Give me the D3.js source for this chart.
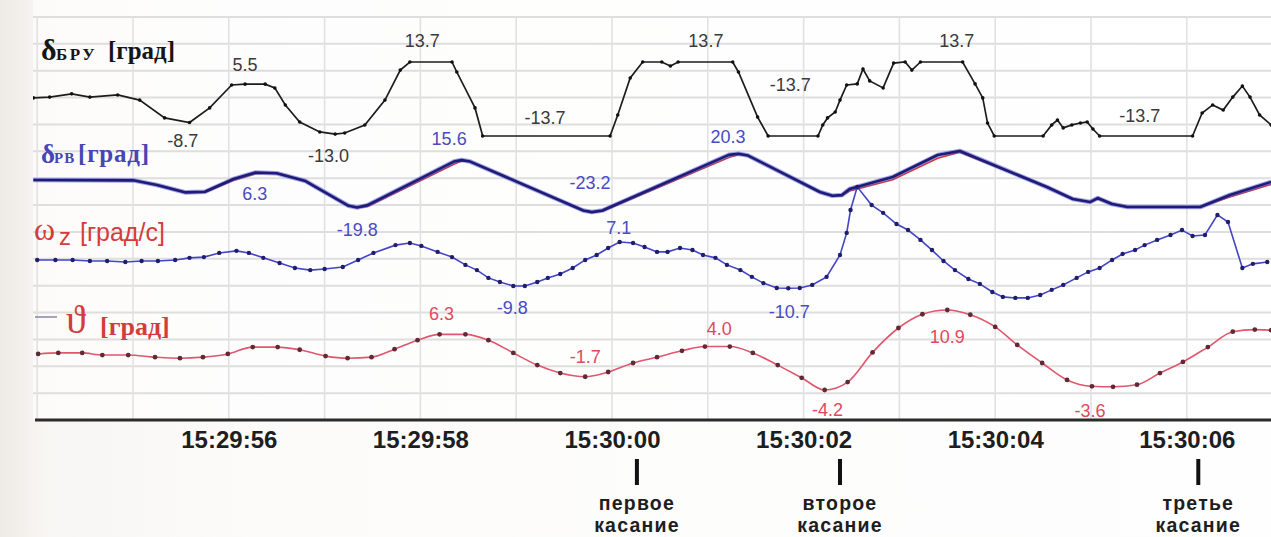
<!DOCTYPE html>
<html>
<head>
<meta charset="utf-8">
<script src="https://cdn.jsdelivr.net/npm/d3@7"></script>
<style>
  html, body { margin: 0; padding: 0; background: #fbfaf8; }
  svg { display: block; }
</style>
</head>
<body>
<svg id="chart" width="1271" height="537"></svg>
<script>
// ---- Data (time in seconds relative to 15:30:00) ----
const tickTimes  = [-4, -2, 0, 2, 4, 6];
const tickLabels = ["15:29:56", "15:29:58", "15:30:00", "15:30:02", "15:30:04", "15:30:06"];

const touchTimes  = [0.26, 2.38, 6.12];
const touchLabels = [["первое", "касание"], ["второе", "касание"], ["третье", "касание"]];

// δБРУ, deg
const bruTime  = [-6.04,-5.87,-5.64,-5.45,-5.16,-4.93,-4.67,-4.41,-4.20,-3.97,-3.83,-3.62,-3.52,-3.41,-3.26,-3.05,-2.89,-2.79,-2.58,-2.37,-2.21,-2.11,
                  -1.67,-1.62,-1.43,-1.35,-0.02,0.06,0.19,0.32,0.52,0.61,0.69,1.26,1.32,1.52,1.63,2.15,2.20,2.25,2.33,2.38,2.45,2.56,2.62,2.69,2.83,
                  2.94,3.06,3.13,3.22,3.66,3.79,3.87,3.92,3.99,4.50,4.59,4.65,4.71,4.80,4.89,4.96,5.02,5.09,6.06,6.16,6.27,6.38,6.48,6.58,6.66,6.76,6.88];
const bruValue = [0.4,0.7,1.9,0.7,1.5,-0.4,-7.0,-8.7,-3.3,5.2,5.5,5.5,4.1,-2.2,-8.5,-12.2,-13.0,-12.6,-9.6,-0.4,10.7,13.7,
                  13.7,10.0,-3.3,-13.7,-13.7,-5.9,7.8,13.7,13.7,12.2,13.7,13.7,10.0,-6.7,-13.7,-13.7,-9.6,-7.0,-4.8,-0.4,5.2,5.6,11.1,6.7,4.1,
                  13.3,13.7,10.7,13.7,13.7,5.6,0.4,-8.9,-13.7,-13.7,-9.6,-7.8,-10.7,-9.6,-8.9,-8.5,-11.1,-13.7,-13.7,-5.2,-2.2,-4.1,0.7,4.8,0.7,-5.9,-9.6];
const bruLabelTime  = [-3.83, -4.48, -2.96, -1.98, -0.70, 0.98, 1.86, 3.60, 5.51];
const bruLabelValue = [5.5, -8.7, -13.0, 13.7, -13.7, 13.7, -13.7, 13.7, -13.7];

// δРВ, deg (measured and commanded)
const rvTime  = [-6.04,-5.0,-4.75,-4.45,-4.25,-3.95,-3.72,-3.5,-3.2,-2.75,-2.66,-2.55,-1.65,-1.57,-1.48,-0.3,-0.21,-0.1,1.22,1.32,1.42,
                 2.17,2.30,2.40,2.48,2.93,3.40,3.63,4.54,4.81,4.99,5.07,5.22,5.38,6.14,6.45,6.88];
const rvValue = [0.7,0.5,-3.0,-8.5,-8.0,1.5,6.3,5.8,0.0,-18.5,-19.8,-18.0,14.5,15.6,14.5,-22.0,-23.2,-22.0,19.5,20.3,19.0,
                 -8.2,-11.0,-10.5,-6.0,3.0,19.4,22.4,-4.5,-13.4,-15.7,-12.7,-17.2,-19.4,-19.4,-10.4,-0.7];
const rvCmdValue = [0.7,0.5,-3.0,-8.5,-8.5,0.5,5.5,5.8,0.0,-18.5,-19.8,-19.0,12.5,15.0,14.5,-22.0,-23.2,-22.5,17.5,19.8,19.0,
                 -8.2,-11.0,-11.0,-7.5,1.0,17.0,21.5,-4.5,-13.4,-15.7,-13.5,-17.2,-19.4,-19.4,-12.0,-2.5];
const rvLabelTime  = [-3.73, -2.66, -1.70, -0.23, 1.21];
const rvLabelValue = [6.3, -19.8, 15.6, -23.2, 20.3];

// ωz, deg/s
const wzTime  = [-6.00,-5.81,-5.63,-5.45,-5.27,-5.08,-4.91,-4.74,-4.56,-4.41,-4.26,-4.10,-3.92,-3.79,-3.64,-3.47,-3.31,-3.15,-3.00,-2.81,-2.65,
                 -2.49,-2.26,-2.11,-1.99,-1.82,-1.67,-1.53,-1.41,-1.29,-1.17,-1.03,-0.91,-0.78,-0.67,-0.54,-0.41,-0.28,-0.16,-0.04,0.08,
                 0.22,0.34,0.47,0.58,0.71,0.84,0.95,1.08,1.20,1.34,1.46,1.58,1.72,1.84,1.96,2.09,2.24,2.38,2.45,2.49,2.56,
                 2.71,2.83,2.97,3.09,3.22,3.34,3.46,3.58,3.72,3.84,3.97,4.08,4.21,4.34,4.47,4.59,4.71,4.85,4.97,5.09,5.22,5.33,
                 5.46,5.56,5.69,5.83,5.95,6.06,6.19,6.32,6.43,6.58,6.69,6.84];
const wzValue = [0.2,0.2,0.2,-0.2,-0.2,-0.6,-0.2,-0.2,0.2,1.0,1.3,2.9,3.7,2.9,1.0,-1.0,-2.9,-3.7,-3.3,-2.5,0.2,
                 2.9,5.9,6.7,5.6,3.3,1.3,-1.7,-3.7,-6.7,-8.3,-9.8,-9.8,-8.3,-6.7,-5.2,-2.9,0.2,2.1,4.8,7.1,
                 6.7,5.2,3.3,3.3,4.8,4.0,2.1,1.0,-1.7,-3.7,-6.3,-8.7,-10.6,-10.7,-10.6,-9.4,-6.3,2.1,10.6,19.4,28.3,
                 21.3,18.3,14.0,11.7,7.9,4.0,-0.2,-3.7,-7.1,-9.0,-12.1,-14.0,-14.4,-14.4,-13.3,-11.3,-9.4,-6.7,-4.4,-2.9,0.2,2.5,
                 4.0,5.9,7.9,9.8,11.7,9.4,9.8,17.5,14.8,-2.9,-1.3,-0.6];
const wzLabelTime  = [0.07, -1.04, 1.85];
const wzLabelValue = [7.1, -9.8, -10.7];

// ϑ, deg
const thTime  = [-5.99,-5.78,-5.53,-5.32,-5.05,-4.77,-4.51,-4.27,-4.01,-3.75,-3.49,-3.26,-2.99,-2.76,-2.51,-2.27,-2.03,-1.80,-1.53,-1.29,
                 -1.03,-0.78,-0.54,-0.28,-0.04,0.22,0.47,0.73,0.97,1.23,1.47,1.73,1.98,2.22,2.46,2.72,2.99,3.24,3.50,3.74,4.00,4.23,
                 4.49,4.75,5.01,5.23,5.48,5.72,5.96,6.22,6.48,6.71,6.88];
const thValue = [2.6,2.8,2.8,2.4,2.4,2.0,1.8,2.0,2.6,3.9,3.9,3.4,2.2,1.8,2.0,3.5,5.2,6.3,6.3,5.2,
                 2.8,0.5,-1.0,-1.7,-0.8,0.9,2.0,3.2,4.0,4.0,2.8,0.5,-1.9,-4.2,-2.7,2.9,7.5,10.1,10.9,10.0,7.7,4.3,
                 0.9,-2.3,-3.5,-3.6,-3.2,-1.0,1.1,3.9,6.8,7.2,7.1];
const thLabelTime  = [-1.78, -0.28, 1.12, 2.25, 3.50, 4.99];
const thLabelValue = [6.3, -1.7, 4.0, -4.2, 10.9, -3.6];

// ---- Layout ----
const W = 1271, H = 537;
const plotLeft = 33, plotRight = W, axisY = 420;
const svg = d3.select("#chart");

const base = new Date(2000, 0, 1, 15, 30, 0);
const toDate = s => new Date(base.getTime() + s * 1000);
const fmt = v => v.toFixed(1);

const x = d3.scaleTime().domain([toDate(-6), toDate(6)]).range([37.2, 1186.8]);
const gridY = d3.scaleLinear().domain([0, 15]).range([17, axisY]);

// band scales, one per trace
const yBru = d3.scaleLinear().domain([-13.7, 13.7]).range([136, 62]);
const yRv  = d3.scaleLinear().domain([-23.2, 20.3]).range([212.1, 153.8]);
const yWz  = d3.scaleLinear().domain([-10.7, 7.1]).range([288.3, 242]);
const yTh  = d3.scaleLinear().domain([-4.2, 10.9]).range([390, 310]);

// background
const defs = svg.append("defs");
const bg = defs.append("linearGradient").attr("id", "bg").attr("x1", 0).attr("x2", 1).attr("y1", 0).attr("y2", 0);
bg.append("stop").attr("offset", 0).attr("stop-color", "#eeeae5");
bg.append("stop").attr("offset", 0.035).attr("stop-color", "#f8f6f3");
bg.append("stop").attr("offset", 0.2).attr("stop-color", "#fcfbfa");
bg.append("stop").attr("offset", 1).attr("stop-color", "#fefefe");
svg.append("rect").attr("width", W).attr("height", H).attr("fill", "url(#bg)");
svg.append("rect").attr("x", plotLeft).attr("y", 0).attr("width", plotRight - plotLeft).attr("height", axisY)
  .attr("fill", "#ffffff").attr("opacity", 0.6);

defs.append("clipPath").attr("id", "plotClip").append("rect")
  .attr("x", plotLeft).attr("y", 0).attr("width", plotRight - plotLeft).attr("height", axisY);

// grid
const grid = svg.append("g");
grid.selectAll("line.h").data(d3.range(15)).join("line")
  .attr("x1", plotLeft).attr("x2", plotRight)
  .attr("y1", d => gridY(d)).attr("y2", d => gridY(d))
  .attr("stroke", "#dedede").attr("stroke-width", 2);
grid.selectAll("line.v").data(d3.timeSecond.range(toDate(-6), toDate(7))).join("line")
  .attr("x1", d => x(d)).attr("x2", d => x(d))
  .attr("y1", gridY(0)).attr("y2", axisY)
  .attr("stroke", "#e2e2e2").attr("stroke-width", 1.6);

// axis
svg.append("line").attr("x1", 35).attr("x2", plotRight).attr("y1", axisY).attr("y2", axisY)
  .attr("stroke", "#2b2b2b").attr("stroke-width", 3.2);
const axis = d3.axisBottom(x)
  .tickValues(tickTimes.map(toDate))
  .tickFormat((d, i) => tickLabels[i])
  .tickSize(0).tickPadding(11);
const gAxis = svg.append("g").attr("transform", `translate(0,${axisY})`).call(axis);
gAxis.select(".domain").remove();
gAxis.selectAll("text")
  .attr("font-family", "'Liberation Sans', Arial, sans-serif")
  .attr("font-weight", "bold").attr("font-size", 24).attr("fill", "#1e1e1e");

// touch-down markers
const touch = svg.append("g").selectAll("g").data(touchTimes).join("g")
  .attr("transform", d => `translate(${x(toDate(d))},0)`);
touch.append("line").attr("y1", 459).attr("y2", 485).attr("stroke", "#111").attr("stroke-width", 4);
touch.append("text").attr("text-anchor", "middle")
  .attr("font-family", "'Liberation Sans', Arial, sans-serif").attr("font-weight", "bold")
  .attr("font-size", 19.5).attr("letter-spacing", 1.2).attr("fill", "#1e1e1e")
  .selectAll("tspan").data((d, i) => touchLabels[i]).join("tspan")
  .attr("x", 0).attr("y", (d, j) => 510 + j * 22).text(d => d);

// traces
const plot = svg.append("g").attr("clip-path", "url(#plotClip)");
function series(times, values) { return times.map((t, i) => ({ t: toDate(t), v: values[i] })); }
function lineGen(yScale, curve) {
  return d3.line().x(d => x(d.t)).y(d => yScale(d.v)).curve(curve || d3.curveLinear);
}

// δБРУ
const bru = series(bruTime, bruValue);
plot.append("path").datum(bru).attr("d", lineGen(yBru)).attr("fill", "none")
  .attr("stroke", "#1c1c1c").attr("stroke-width", 1.7);
plot.append("g").selectAll("circle").data(bru).join("circle")
  .attr("cx", d => x(d.t)).attr("cy", d => yBru(d.v)).attr("r", 1.8).attr("fill", "#111");

// δРВ commanded (red) under measured (navy)
const rvCmd = series(rvTime, rvCmdValue);
const rv = series(rvTime, rvValue);
plot.append("path").datum(rvCmd).attr("d", lineGen(yRv)).attr("fill", "none")
  .attr("stroke", "#d23a3a").attr("stroke-width", 1.6);
plot.append("path").datum(rv).attr("d", lineGen(yRv)).attr("fill", "none")
  .attr("stroke", "#5656d6").attr("stroke-width", 4.6).attr("stroke-opacity", 0.55).attr("stroke-linejoin", "round");
plot.append("path").datum(rv).attr("d", lineGen(yRv)).attr("fill", "none")
  .attr("stroke", "#1d1d78").attr("stroke-width", 2.6).attr("stroke-linejoin", "round");

// ωz
const wz = series(wzTime, wzValue);
plot.append("path").datum(wz).attr("d", lineGen(yWz)).attr("fill", "none")
  .attr("stroke", "#4444c8").attr("stroke-width", 1.6);
plot.append("g").selectAll("circle").data(wz).join("circle")
  .attr("cx", d => x(d.t)).attr("cy", d => yWz(d.v)).attr("r", 2.2).attr("fill", "#1e1e6a");

// ϑ
const th = series(thTime, thValue);
plot.append("path").datum(th).attr("d", lineGen(yTh, d3.curveMonotoneX)).attr("fill", "none")
  .attr("stroke", "#e0566c").attr("stroke-width", 1.6);
plot.append("g").selectAll("circle").data(th).join("circle")
  .attr("cx", d => x(d.t)).attr("cy", d => yTh(d.v)).attr("r", 2.4).attr("fill", "#5e2a36");

// value annotations (vertical offset from the annotated point, px)
const bruLabelDy = [-13, 25, 28, -15, -12, -15, -45, -15, -14];
const rvLabelDy  = [27, 28, -15, -23, -11];
const wzLabelDy  = [-8, 28, 30];
const thLabelDy  = [-14, -14, -12, 26, 33, 30];
function annotate(times, values, dys, yScale, color) {
  plot.append("g").selectAll("text").data(times).join("text")
    .attr("x", d => x(toDate(d)))
    .attr("y", (d, i) => yScale(values[i]) + dys[i])
    .attr("text-anchor", "middle")
    .attr("font-family", "'Liberation Sans', Arial, sans-serif")
    .attr("font-size", 18).attr("fill", color)
    .text((d, i) => fmt(values[i]));
}
annotate(bruLabelTime, bruLabelValue, bruLabelDy, yBru, "#3a3a3a");
annotate(rvLabelTime, rvLabelValue, rvLabelDy, yRv, "#4a4ac4");
annotate(wzLabelTime, wzLabelValue, wzLabelDy, yWz, "#4a4ac4");
annotate(thLabelTime, thLabelValue, thLabelDy, yTh, "#e0485c");

// trace titles
const serif = "'Liberation Serif', 'Times New Roman', serif";
const sans = "'Liberation Sans', Arial, sans-serif";
const titles = svg.append("g");
function title(parts, color) {
  const t = titles.append("text").attr("fill", color);
  parts.forEach(p => {
    t.append("tspan").attr("x", p.x).attr("y", p.y)
      .attr("font-family", p.family).attr("font-size", p.size)
      .attr("font-weight", p.weight || "bold")
      .attr("letter-spacing", p.ls || 0)
      .text(p.text);
  });
}
title([
  { text: "δ", x: 41, y: 60, size: 30, family: serif },
  { text: "БРУ", x: 56, y: 60, size: 17, family: serif, ls: 2.5 },
  { text: "[град]", x: 108, y: 59, size: 25, family: serif }
], "#151515");
title([
  { text: "δ", x: 41, y: 163, size: 27, family: serif },
  { text: "РВ", x: 54, y: 163, size: 15, family: serif, ls: 1 },
  { text: "[град]", x: 78, y: 162, size: 25, family: serif, ls: 0.8 }
], "#4646b4");
title([
  { text: "ω", x: 34, y: 240, size: 32, family: serif, weight: "normal" },
  { text: "z", x: 59, y: 245, size: 24, family: sans, weight: "normal" },
  { text: "[град/с]", x: 80, y: 241, size: 25, family: sans, weight: "normal" }
], "#d43c3c");
title([
  { text: "ϑ", x: 66, y: 333, size: 40, family: serif, weight: "normal" },
  { text: "[град]", x: 100, y: 335, size: 26, family: serif }
], "#d43c3c");
titles.append("line").attr("x1", 35).attr("x2", 57).attr("y1", 317).attr("y2", 317)
  .attr("stroke", "#8e8ea6").attr("stroke-width", 1.6);
</script>
</body>
</html>
